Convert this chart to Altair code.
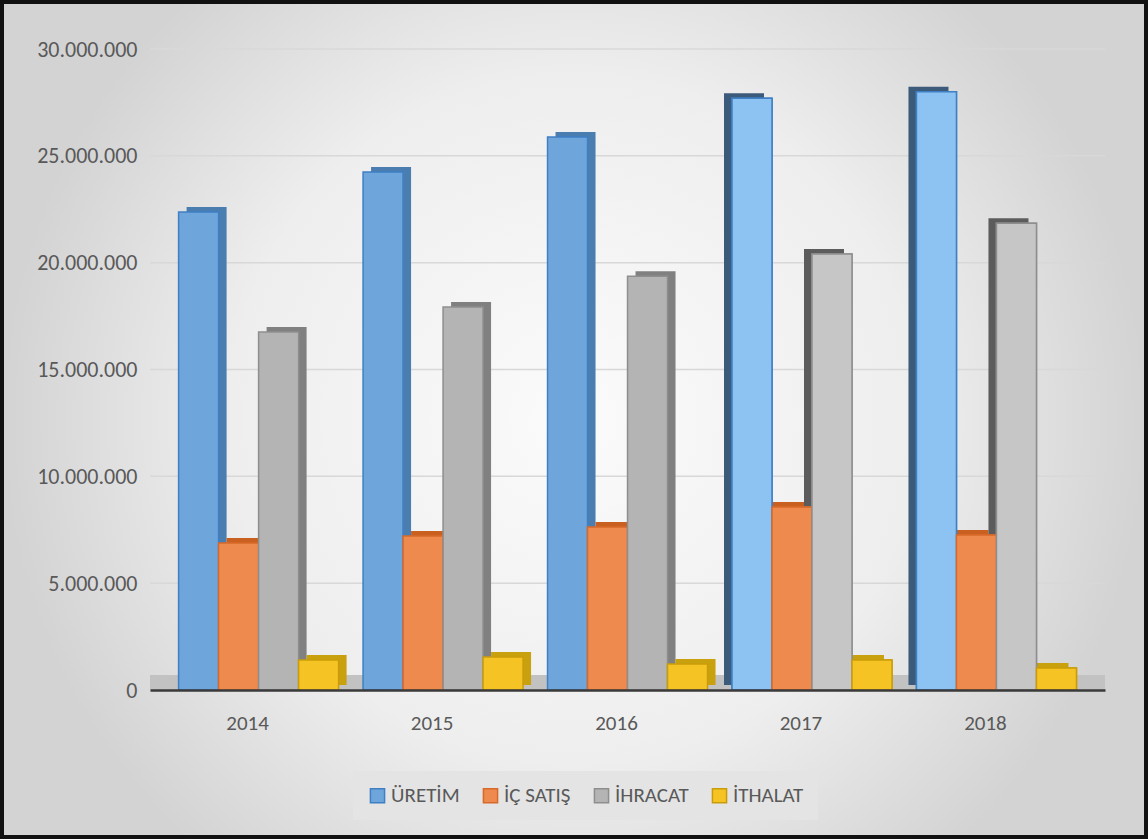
import altair as alt
import pandas as pd

years = ["2014", "2015", "2016", "2017", "2018"]
series = ["ÜRETİM", "İÇ SATIŞ", "İHRACAT", "İTHALAT"]
uretim = [22370000, 24240000, 25880000, 27700000, 28000000]
ic_satis = [6880000, 7210000, 7630000, 8560000, 7250000]
ihracat = [16750000, 17920000, 19370000, 20400000, 21850000]
ithalat = [1400000, 1540000, 1220000, 1400000, 1030000]
y_ticks = [0, 5000000, 10000000, 15000000, 20000000, 25000000, 30000000]

fill_colors = ["#6ea6dc", "#ee8a4d", "#b4b4b4", "#f6c324"]
stroke_colors = ["#3f7fc4", "#d7692a", "#8e8e8e", "#c99d0a"]
side_early = {"ÜRETİM": "#4a7db0", "İÇ SATIŞ": "#c9601f", "İHRACAT": "#808080", "İTHALAT": "#c9a00e"}
side_late = {"ÜRETİM": "#3c5a7a", "İÇ SATIŞ": "#c9601f", "İHRACAT": "#5c5c5c", "İTHALAT": "#c9a00e"}
late_fill = {"ÜRETİM": "#8cc3f2", "İÇ SATIŞ": "#ee8a4d", "İHRACAT": "#c6c6c6", "İTHALAT": "#f6c324"}

rows = []
for i, yr in enumerate(years):
    for s, vals in zip(series, [uretim, ic_satis, ihracat, ithalat]):
        late = int(yr) > 2016
        rows.append({"Yıl": yr, "Seri": s, "Değer": vals[i],
                     "side": side_late[s] if late else side_early[s],
                     "lfill": late_fill[s], "late": late})
df = pd.DataFrame(rows)
grid_df = pd.DataFrame({"v": y_ticks[1:]})

FONT = "Carlito, Calibri, Lato, sans-serif"
W, H = 955, 641
BAND = 160

yscale = alt.Scale(domain=[0, 30000000], nice=False)

x_enc = alt.X("Yıl:N", sort=years,
              scale=alt.Scale(domain=years, paddingInner=0.133, paddingOuter=0.155),
              axis=alt.Axis(title=None, labelAngle=0, ticks=False, labelFontSize=21,
                            labelColor="#595959", labelFont=FONT, labelPadding=22,
                            labelOffset=-11, domainColor="#3a3a3a", domainWidth=2.5,
                            grid=False, zindex=2))
y_enc = alt.Y("Değer:Q", scale=yscale,
              axis=alt.Axis(title=None, values=y_ticks, ticks=False, domain=False,
                            labelFontSize=22, labelColor="#595959", labelFont=FONT,
                            labelPadding=13, grid=False, zindex=2,
                            labelExpr="replace(format(datum.value, ','), /,/g, '.')"))


def xo(shift):
    return alt.XOffset("Seri:N", sort=series,
                       scale=alt.Scale(domain=series, range=[shift, BAND + shift],
                                       paddingInner=0, paddingOuter=0))


bg = alt.Chart(pd.DataFrame({"a": [0]})).mark_rect(
    color=alt.Gradient(gradient="radial",
                       stops=[alt.GradientStop(color="#fbfbfb", offset=0),
                              alt.GradientStop(color="#eeeeee", offset=0.6),
                              alt.GradientStop(color="#d3d3d3", offset=1)]),
    stroke="#111111", strokeWidth=4, clip=False
).encode(x=alt.value(-148), x2=alt.value(996), y=alt.value(-47), y2=alt.value(788))

grid = alt.Chart(grid_df).mark_rule(color="#d8d8d8", strokeWidth=1.5).encode(
    y=alt.Y("v:Q", scale=yscale), x=alt.value(0), x2=alt.value(W))

base = alt.Chart(df)

floor = alt.Chart(pd.DataFrame({"a": [0]})).mark_rect(color="#c2c2c2").encode(
    x=alt.value(0), x2=alt.value(W),
    y=alt.datum(0, scale=yscale), y2=alt.datum(700000))

side_a = base.transform_filter("!datum.late").mark_bar(yOffset=-5).encode(
    x=x_enc, y=y_enc, xOffset=xo(8), fill=alt.Fill("side:N", scale=None))
side_b = base.transform_filter("datum.late").mark_bar(yOffset=-5).encode(
    x=x_enc, y=y_enc, xOffset=xo(-8), fill=alt.Fill("side:N", scale=None))

legend = alt.Legend(title=None, orient="none", direction="horizontal", legendX=203, legendY=722,
                    symbolType="square", symbolSize=200, symbolStrokeWidth=1.5,
                    labelFontSize=21, labelColor="#595959", labelFont=FONT,
                    columnPadding=20, labelOffset=3, padding=14, fillColor="#e4e4e4")

bars = base.mark_bar(strokeWidth=1.5, opacity=1).encode(
    x=x_enc, y=y_enc, xOffset=xo(0),
    color=alt.Color("Seri:N", sort=series, scale=alt.Scale(domain=series, range=fill_colors), legend=legend),
    stroke=alt.Stroke("Seri:N", sort=series, scale=alt.Scale(domain=series, range=stroke_colors), legend=legend),
)

late_bars = base.transform_filter("datum.late").mark_bar(strokeWidth=1.5).encode(
    x=x_enc, y=y_enc, xOffset=xo(0),
    fill=alt.Fill("lfill:N", scale=None),
    stroke=alt.Stroke("Seri:N", sort=series, scale=alt.Scale(domain=series, range=stroke_colors), legend=None),
)

chart = alt.layer(bg, grid, floor, side_a, side_b, bars, late_bars).resolve_scale(
    xOffset="independent"
).properties(
    width=W, height=H,
    autosize=alt.AutoSizeParams(type="none"),
    padding={"left": 150, "top": 49, "right": 43, "bottom": 149},
    background="#e6e6e6",
).configure_view(stroke=None)

chart.save("out.html", embed_options={"renderer": "svg", "actions": False})
